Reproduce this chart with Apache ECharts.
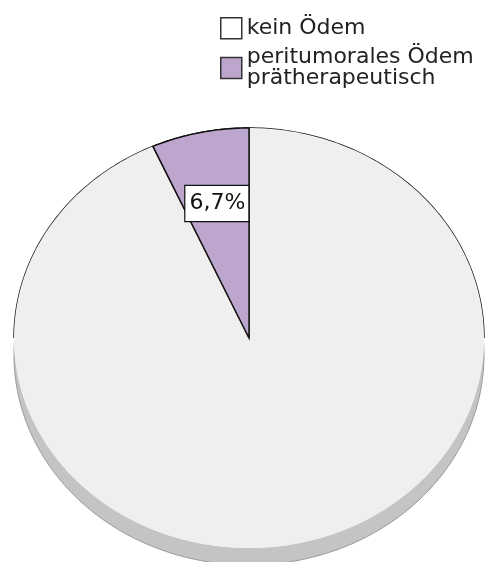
<!DOCTYPE html>
<html>
<head>
<meta charset="utf-8">
<script src="https://cdn.jsdelivr.net/npm/echarts@6/dist/echarts.min.js"></script>
<style>
  html, body { margin: 0; padding: 0; background: #fff; }
  #chart { width: 497px; height: 562px; }
</style>
</head>
<body>
<div id="chart"></div>
<script>
// Category names, percentage shares and slice colours
const categories = ['kein Ödem', 'peritumorales Ödem\nprätherapeutisch'];
const shares = [93.3, 6.7];
const sliceColors = ['#efefef', '#bca6cd'];
const legendColors = ['#ffffff', '#bca6cd'];
const showLabel = [false, true];

// Tilted pie geometry (ellipse centre, radii, rim depth)
const CX = 249, CY = 338, RX = 235, RY = 210, DEPTH = 17;
const total = shares.reduce((a, b) => a + b, 0);

function pt(deg, f, dy) {
  const t = deg * Math.PI / 180;
  return [CX + RX * f * Math.sin(t), CY + (dy || 0) - RY * f * Math.cos(t)];
}
function arcPoints(a0, a1, f, dy) {
  const pts = [];
  const n = Math.max(2, Math.ceil(Math.abs(a1 - a0) / 1));
  for (let i = 0; i <= n; i++) pts.push(pt(a0 + (a1 - a0) * i / n, f, dy));
  return pts;
}
function fmt(v) { return v.toFixed(1).replace('.', ',') + '%'; }

function renderSlice(params, api) {
  const idx = params.seriesIndex;
  const value = api.value(0);
  let before = 0;
  for (let i = 0; i < idx; i++) before += shares[i];
  const a0 = before / total * 360;
  const a1 = (before + value) / total * 360;
  const children = [];

  if (idx === 0) {
    // rim of the disc, seen below the lower half
    children.push({
      type: 'polygon',
      shape: { points: arcPoints(0, 360, 1, DEPTH) },
      style: { fill: '#c4c4c4', stroke: '#9a9a9a', lineWidth: 1 }
    });
    // whole top face, so the lower half has no dark edge
    children.push({
      type: 'polygon',
      shape: { points: arcPoints(0, 360, 1, 0) },
      style: { fill: sliceColors[0], stroke: null }
    });
    // dark outline along the upper half of the disc
    children.push({
      type: 'polyline',
      shape: { points: arcPoints(-90, 90, 1, 0) },
      style: { fill: null, stroke: '#111', lineWidth: 1.4 }
    });
  }

  const pts = [[CX, CY]].concat(arcPoints(a0, a1, 1, 0));
  children.push({
    type: 'polygon',
    shape: { points: pts },
    style: idx === 0
      ? { fill: sliceColors[idx], stroke: null }
      : { fill: sliceColors[idx], stroke: '#111', lineWidth: 1.4 }
  });
  if (idx === 0) {
    // radial edges of the large slice
    children.push({ type: 'line', shape: { x1: CX, y1: CY, x2: pt(a0, 1)[0], y2: pt(a0, 1)[1] }, style: { stroke: '#111', lineWidth: 1.4 } });
    children.push({ type: 'line', shape: { x1: CX, y1: CY, x2: pt(a1, 1)[0], y2: pt(a1, 1)[1] }, style: { stroke: '#111', lineWidth: 1.4 } });
  }

  if (showLabel[idx]) {
    const lp = pt((a0 + a1) / 2, 0.655, 0);
    children.push({
      type: 'text',
      x: lp[0], y: lp[1],
      z2: 10,
      style: {
        text: fmt(value),
        font: '22px "DejaVu Sans"',
        fill: '#111',
        align: 'center',
        verticalAlign: 'middle',
        backgroundColor: '#ffffff',
        borderColor: '#111',
        borderWidth: 1.2,
        padding: [7, 3, 6, 4]
      }
    });
  }
  return { type: 'group', children: children };
}

const chart = echarts.init(document.getElementById('chart'), null, { renderer: 'canvas' });
chart.setOption({
  backgroundColor: '#ffffff',
  animation: false,
  legend: {
    orient: 'vertical',
    left: 220,
    top: 17,
    padding: 0,
    icon: 'rect',
    itemWidth: 21,
    itemHeight: 21,
    itemGap: 7,
    selectedMode: false,
    itemStyle: { borderColor: '#333', borderWidth: 1.5 },
    textStyle: { fontFamily: 'DejaVu Sans', fontSize: 22, lineHeight: 21, color: '#222' },
    data: categories.map((c, i) => ({ name: c, itemStyle: { color: legendColors[i] } }))
  },
  series: categories.map((c, i) => ({
    type: 'custom',
    name: c,
    coordinateSystem: 'none',
    itemStyle: { color: legendColors[i] },
    z: 2 + i,
    data: [[shares[i]]],
    renderItem: renderSlice
  }))
});
</script>
</body>
</html>
